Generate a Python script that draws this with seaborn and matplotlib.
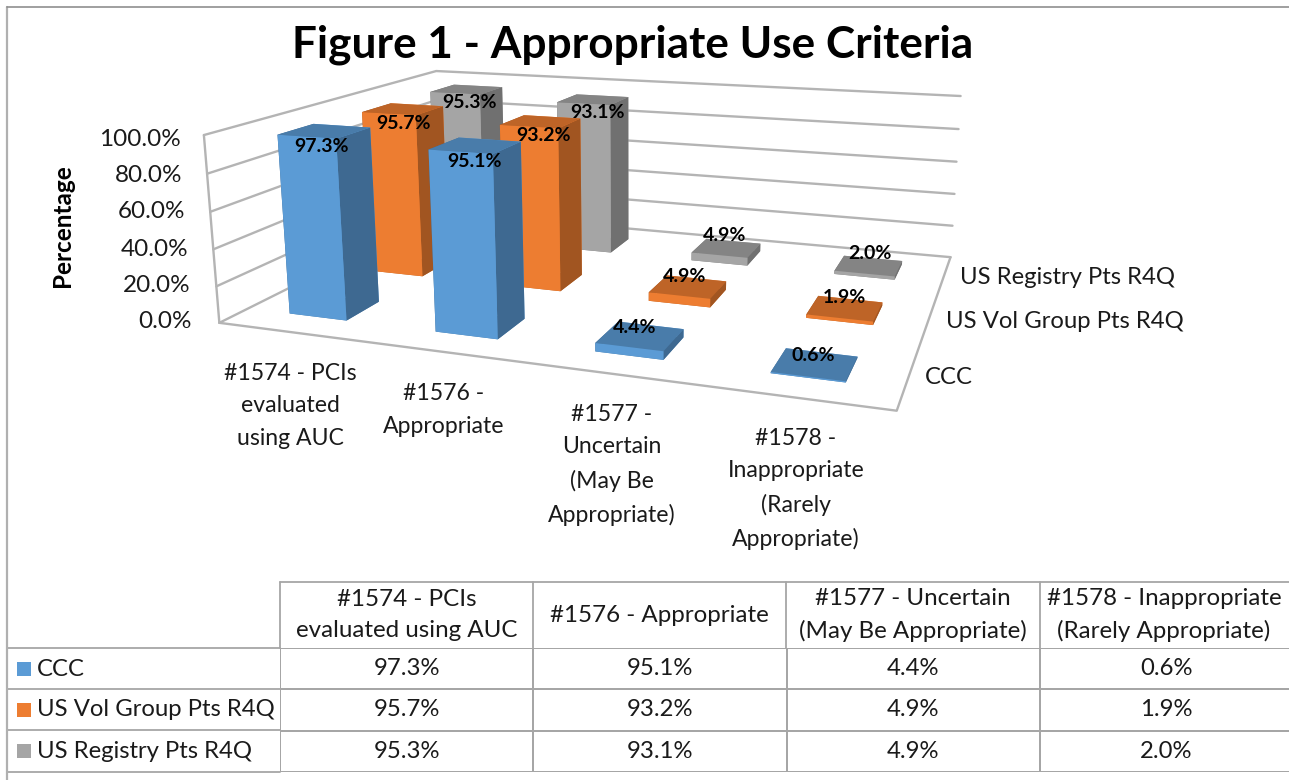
import numpy as np
import pandas as pd
import seaborn as sns
import matplotlib.pyplot as plt
from matplotlib.colors import ListedColormap

categories = ["#1574 - PCIs evaluated using AUC", "#1576 - Appropriate",
              "#1577 - Uncertain (May Be Appropriate)", "#1578 - Inappropriate (Rarely Appropriate)"]
series_names = ["CCC", "US Vol Group Pts R4Q", "US Registry Pts R4Q"]
ccc_values = [97.3, 95.1, 4.4, 0.6]
vol_values = [95.7, 93.2, 4.9, 1.9]
registry_values = [95.3, 93.1, 4.9, 2.0]
percent_ticks = [0, 20, 40, 60, 80, 100]
cat_axis_labels = ["#1574 - PCIs\nevaluated\nusing AUC", "#1576 -\nAppropriate",
                   "#1577 -\nUncertain\n(May Be\nAppropriate)", "#1578 -\nInappropriate\n(Rarely\nAppropriate)"]
header_labels = ["#1574 - PCIs\nevaluated using AUC", "#1576 - Appropriate",
                 "#1577 - Uncertain\n(May Be Appropriate)", "#1578 - Inappropriate\n(Rarely Appropriate)"]

W, H = 1289, 780
sns.set_theme(style="white")
plt.rcParams["font.family"] = ["Lato", "DejaVu Sans"]
base_colors = sns.color_palette(["#5B9BD5", "#ED7D31", "#A5A5A5"])
line_color = "#b4b4b4"
table_color = "#a6a6a6"
text_color = "#1a1a1a"
font_size = 17.2

fig = plt.figure(figsize=(W / 100, H / 100), dpi=100)

# camera fitted to the corners of the reference's floor and walls
left, bottom, side = 220.7, 184.7, 765.7
ax3 = fig.add_axes([left / W, bottom / H, side / W, side / H], projection="3d")
ax3.set_xlim(0, 4, view_margin=0)
ax3.set_ylim(0, 3, view_margin=0)
ax3.set_zlim(0, 100, view_margin=0)
ax3.set_box_aspect((1, 0.718, 0.286))
ax3.view_init(elev=13.719, azim=-70.197, roll=0.204)
ax3.set_proj_type("persp", focal_length=0.303)
ax3.set_axis_off()
ax3.patch.set_alpha(0)
ax3.computed_zorder = False

for z in percent_ticks:
    ax3.plot([0, 0, 4], [0, 3, 3], [z, z, z], color=line_color, lw=1.7, zorder=1, clip_on=False)
ax3.plot([0, 0], [0, 0], [0, 100], color=line_color, lw=1.7, zorder=1, clip_on=False)
ax3.plot([0, 4, 4], [0, 0, 3], [0, 0, 0], color=line_color, lw=1.7, zorder=1, clip_on=False)

all_values = [ccc_values, vol_values, registry_values]
order = 2
for j in [2, 1, 0]:
    c = np.array(base_colors[j])
    faces = [c * 0.8, c * 0.8, c, c, c * 0.68, c * 0.68]
    for i in range(4):
        ax3.bar3d(i + 0.3, j + 0.3, 0, 0.4, 0.4, all_values[j][i], color=faces, shade=False,
                  edgecolor="none", linewidth=0, zorder=order)
        order += 1

ov = fig.add_axes([0, 0, 1, 1], zorder=5)
ov.set_xlim(0, W)
ov.set_ylim(H, 0)
ov.set_axis_off()
ov.patch.set_alpha(0)

# data labels sit on the projected top of each bar
ax3.apply_aspect()
M = ax3.get_proj()
for j in [2, 1, 0]:
    for i in range(4):
        v = all_values[j][i]
        h = M @ np.array([i + 0.5, j + 0.3, v, 1.0])
        px, py = ax3.transData.transform((h[0] / h[3], h[1] / h[3]))
        ov.text(px + 5 + 0.1 * v, H - py - 21 + 0.32 * v, "%.1f%%" % v, ha="center", va="center",
                fontsize=14, fontweight="bold", color="black")

ov.text(632.5, 45, "Figure 1 - Appropriate Use Criteria", ha="center", va="center", fontsize=31.8,
        fontweight="bold", color="black")
ov.text(62, 226, "Percentage", rotation=90, ha="center", va="center", fontsize=17.5, fontweight="bold",
        color="black")
tick_right = [192, 190, 188, 185, 182, 181]
tick_y = [322, 286, 250, 212, 175, 139]
for t, xr, yy in zip(percent_ticks, tick_right, tick_y):
    ov.text(xr, yy, "%.1f%%" % t, ha="right", va="center", fontsize=17.5, color=text_color)

for lab, xx, yy in zip(cat_axis_labels, [290, 444, 612, 796], [406, 410, 465, 489]):
    ov.text(xx, yy, lab, ha="center", va="center", fontsize=16.6, linespacing=1.67, color=text_color)
for lab, xx, yy in zip(series_names, [949, 1064.5, 1068], [377, 321, 278]):
    ov.text(xx, yy, lab, ha="center", va="center", fontsize=font_size, color=text_color)

# data table
table = pd.DataFrame(np.array(all_values), index=series_names, columns=categories)
tb = fig.add_axes([280 / W, (H - 772) / H, 1013 / W, 124 / H], zorder=4)
sns.heatmap(table, ax=tb, cmap=ListedColormap(["white"]), cbar=False, annot=table.map(lambda v: "%.1f%%" % v),
            fmt="", linewidths=1.3, linecolor=table_color, xticklabels=False, yticklabels=False,
            annot_kws={"fontsize": font_size, "color": text_color})
tb.set_xlabel("")
tb.set_ylabel("")

for lab, xx in zip(header_labels, [406.5, 659.5, 913, 1164]):
    ov.text(xx, 615, lab, ha="center", va="center", fontsize=17.4, linespacing=1.57, color=text_color)
for xx in [280, 533, 786, 1040]:
    ov.plot([xx, xx], [582, 648], color=table_color, lw=1.3)
ov.plot([280, W], [582, 582], color=table_color, lw=1.3)
for yy in [648, 689, 730, 772]:
    ov.plot([7, 280], [yy, yy], color=table_color, lw=1.3)
ov.plot([7, 7], [7, H], color="#b0b0b0", lw=1.6)
ov.plot([7, W], [7, 7], color="#8f8f8f", lw=1.2)
for j, yy in zip(range(3), [669, 710, 751]):
    ov.scatter([24], [yy], marker="s", s=100, color=[base_colors[j]], linewidths=0)
    ov.text(37, yy, series_names[j], ha="left", va="center", fontsize=font_size, color=text_color)

fig.savefig("out.png", dpi=100)
